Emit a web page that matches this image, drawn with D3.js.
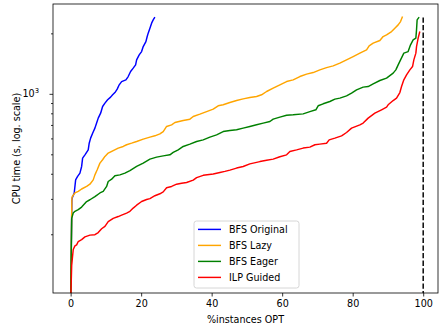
<!DOCTYPE html>
<html>
<head>
<meta charset="utf-8">
<script src="https://cdn.jsdelivr.net/npm/d3@7"></script>
<style>
  body { margin: 0; background: #fff; }
  text { font-family: "DejaVu Sans", sans-serif; }
</style>
</head>
<body>
<div id="chart"></div>
<script>
// cactus plot: % of instances solved vs cpu time
var seriesNames = ['BFS Original', 'BFS Lazy', 'BFS Eager', 'ILP Guided'];
var colours = ['blue', 'orange', 'green', 'red'];

var bfsOriginal = [[0,90],[0.35,295],[0.45,303],[1.02,321],[1.42,373],[1.98,388],[2.64,403],[3.12,435],[3.40,479],[4.06,497],[4.99,526],[5.27,568],[5.67,602],[6.24,637],[6.89,675],[7.37,715],[7.83,757],[8.51,801],[9.07,865],[9.73,899],[10.49,934],[11.34,963],[11.91,989],[12.56,1015],[13.21,1055],[13.78,1109],[14.46,1151],[15.68,1174],[16.33,1219],[17.01,1291],[17.75,1342],[18.43,1394],[18.72,1476],[19.45,1563],[20.13,1623],[20.59,1719],[21.35,1820],[21.72,1928],[22.0,2005],[22.49,2123],[22.97,2248],[23.42,2334],[23.9,2408]];

var bfsLazy = [[0,90],[0.35,300],[0.45,308],[1.22,321],[2.16,327],[3.12,336],[4.54,346],[5.47,355],[6.41,373],[6.89,395],[7.54,419],[8.31,452],[9.07,470],[9.73,488],[10.66,507],[12.08,522],[13.5,537],[14.92,547],[15.88,558],[17.3,568],[18.72,579],[20.59,595],[22.49,609],[23.9,618],[25.32,632],[26.26,649],[27.22,688],[28.64,701],[29.58,720],[31.93,737],[33.83,748],[34.77,771],[36.67,792],[38.57,816],[40.44,839],[41.85,872],[43.27,882],[45.17,905],[47.07,926],[48.94,944],[50.84,959],[52.74,970],[54.16,989],[55.58,1027],[57.45,1067],[59.35,1109],[61.25,1151],[63.12,1174],[65.02,1219],[66.92,1253],[68.79,1276],[70.69,1316],[72.59,1351],[74.46,1378],[76.36,1421],[78.26,1476],[80.14,1533],[82.04,1594],[83.94,1655],[84.67,1734],[85.81,1787],[87.71,1842],[88.64,1928],[89.61,1966],[91.03,2042],[91.96,2123],[92.9,2204],[93.58,2289],[94.14,2424]];

var bfsEager = [[0,90],[0.3,240],[0.74,255],[1.22,260],[2.16,265],[3.12,273],[4.54,291],[5.47,297],[6.89,308],[8.31,321],[9.24,327],[10.21,346],[10.66,366],[11.63,376],[12.56,391],[13.98,395],[15.4,403],[16.82,415],[18.72,435],[20.59,452],[22.49,473],[24.39,484],[26.26,491],[28.16,497],[29.09,511],[30.51,526],[31.93,547],[33.83,562],[35.73,579],[37.6,590],[39.5,609],[41.4,625],[43.27,649],[45.17,657],[47.07,662],[48.94,675],[50.84,688],[52.74,701],[54.62,715],[56.52,728],[57.45,748],[59.35,766],[61.25,782],[63.12,786],[65.96,795],[67.86,816],[69.56,833],[70.21,872],[71.63,892],[73.53,916],[74.95,941],[76.36,952],[78.26,977],[79.68,1008],[81.1,1047],[82.97,1080],[84.39,1087],[85.81,1121],[87.71,1165],[89.61,1197],[91.48,1268],[92.24,1316],[92.9,1394],[93.58,1476],[94.51,1594],[95.73,1623],[96.41,1753],[97.15,1856],[97.92,1893],[98.11,2082],[98.28,2334],[98.85,2408]];

var ilpGuided = [[0,90],[0.3,140],[0.45,149],[0.74,168],[1.22,175],[1.70,177],[2.16,184],[3.12,188],[4.06,194],[5.47,198],[6.89,199],[7.83,204],[8.79,213],[9.73,219],[10.66,231],[12.08,240],[13.5,245],[14.46,249],[15.88,255],[16.82,260],[17.75,270],[18.72,279],[20.13,291],[21.55,298],[22.49,301],[23.9,311],[25.32,318],[26.26,325],[27.22,341],[28.64,346],[30.06,355],[31.48,359],[32.89,362],[34.77,372],[35.73,383],[37.6,393],[40.44,399],[42.34,406],[43.75,411],[45.17,417],[47.07,427],[48.94,435],[50.84,448],[53.68,460],[55.58,467],[57.45,473],[59.35,486],[61.25,497],[62.19,516],[64.09,526],[65.96,537],[67.86,543],[69.28,558],[70.69,562],[72.59,568],[73.33,590],[74.95,602],[76.85,618],[78.26,642],[79.68,675],[82.04,701],[82.97,715],[84.39,757],[86.29,801],[88.19,833],[89.61,859],[90.06,882],[91.48,926],[92.44,952],[93.38,1015],[93.86,1087],[94.51,1174],[95.28,1243],[96.22,1316],[96.98,1367],[97.35,1476],[97.92,1594],[98.11,1719],[98.57,1893],[99.05,2042]];

var xTicks = [0, 20, 40, 60, 80, 100];
var yMajorTicks = [1000];
var yMinorTicks = [200, 300, 400, 500, 600, 700, 800, 900, 2000];
var optLine = 100, timeLimit = 2400;

var width = 443, height = 326;
var margin = {top: 4, bottom: 33, left: 53, right: 5};

var svg = d3.select('#chart')
  .append('svg')
  .attr('width', width)
  .attr('height', height);

var xScale = d3.scaleLinear().domain([-5, 104.2]).range([margin.left, width - margin.right]);
var yScale = d3.scaleLog().domain([102, 2800]).range([height - margin.bottom, margin.top]);

svg.append('clipPath').attr('id', 'plotclip')
  .append('rect')
  .attr('x', margin.left).attr('y', margin.top)
  .attr('width', width - margin.left - margin.right)
  .attr('height', height - margin.top - margin.bottom);

var line = d3.line()
  .x(function (d) { return xScale(d[0]); })
  .y(function (d) { return yScale(d[1]); });

var allSeries = [bfsOriginal, bfsLazy, bfsEager, ilpGuided];

var plot = svg.append('g').attr('clip-path', 'url(#plotclip)');

plot.selectAll('.series')
  .data(allSeries)
  .enter()
  .append('path')
  .attr('class', 'series')
  .attr('d', line)
  .attr('fill', 'none')
  .attr('stroke', function (d, i) { return colours[i]; })
  .attr('stroke-width', 1.45)
  .attr('stroke-linejoin', 'round');

plot.append('line')
  .attr('x1', xScale(optLine)).attr('x2', xScale(optLine))
  .attr('y1', yScale(90)).attr('y2', yScale(timeLimit))
  .attr('stroke', 'black')
  .attr('stroke-width', 1.45)
  .attr('stroke-dasharray', '5.3,2.3');

// axes
var xAxis = svg.append('g')
  .attr('transform', 'translate(0,' + (height - margin.bottom) + ')')
  .call(d3.axisBottom(xScale).tickValues(xTicks).tickSize(3.5).tickPadding(3.5).tickFormat(d3.format('d')));

var yAxis = svg.append('g')
  .attr('transform', 'translate(' + margin.left + ',0)')
  .call(d3.axisLeft(yScale).tickValues(yMajorTicks).tickSize(3.5).tickFormat(''));

var yMinor = svg.append('g')
  .attr('transform', 'translate(' + margin.left + ',0)')
  .call(d3.axisLeft(yScale).tickValues(yMinorTicks).tickSize(2).tickFormat(''));

[xAxis, yAxis, yMinor].forEach(function (a) {
  a.select('.domain').remove();
  a.selectAll('line').attr('stroke', 'black').attr('stroke-width', 0.8);
  a.selectAll('text').attr('font-size', '9.6px').attr('fill', 'black')
    .style('font-family', '"DejaVu Sans", sans-serif');
});

yMajorTicks.forEach(function (v) {
  var t = svg.append('text')
    .attr('x', 39)
    .attr('y', yScale(v) + 3.6)
    .attr('text-anchor', 'end')
    .attr('font-size', '9.6px')
    .attr('fill', 'black');
  t.append('tspan').text('10');
  t.append('tspan').attr('dy', -4).attr('font-size', '6.8px').text(Math.round(Math.log10(v)));
});

// frame
svg.append('rect')
  .attr('x', margin.left).attr('y', margin.top)
  .attr('width', width - margin.left - margin.right)
  .attr('height', height - margin.top - margin.bottom)
  .attr('fill', 'none')
  .attr('stroke', 'black')
  .attr('stroke-width', 0.8);

svg.append('text')
  .attr('x', (margin.left + width - margin.right) / 2)
  .attr('y', 322.5)
  .attr('text-anchor', 'middle')
  .attr('font-size', '9.6px')
  .text('%instances OPT');

svg.append('text')
  .attr('transform', 'translate(19.5,' + ((margin.top + height - margin.bottom) / 2) + ') rotate(-90)')
  .attr('text-anchor', 'middle')
  .attr('font-size', '9.6px')
  .text('CPU time (s, log. scale)');

// legend
var legend = svg.append('g').attr('transform', 'translate(194,221)');
legend.append('rect')
  .attr('width', 105).attr('height', 67)
  .attr('rx', 2.5)
  .attr('fill', 'white').attr('fill-opacity', 0.8)
  .attr('stroke', '#cccccc').attr('stroke-width', 0.8);

var rows = legend.selectAll('.row')
  .data(seriesNames)
  .enter()
  .append('g')
  .attr('class', 'row')
  .attr('transform', function (d, i) { return 'translate(0,' + (8.4 + i * 16) + ')'; });

rows.append('line')
  .attr('x1', 4).attr('x2', 27)
  .attr('stroke', function (d, i) { return colours[i]; })
  .attr('stroke-width', 1.45);

rows.append('text')
  .attr('x', 35).attr('y', 3.5)
  .attr('font-size', '9.6px')
  .text(function (d) { return d; });
</script>
</body>
</html>
